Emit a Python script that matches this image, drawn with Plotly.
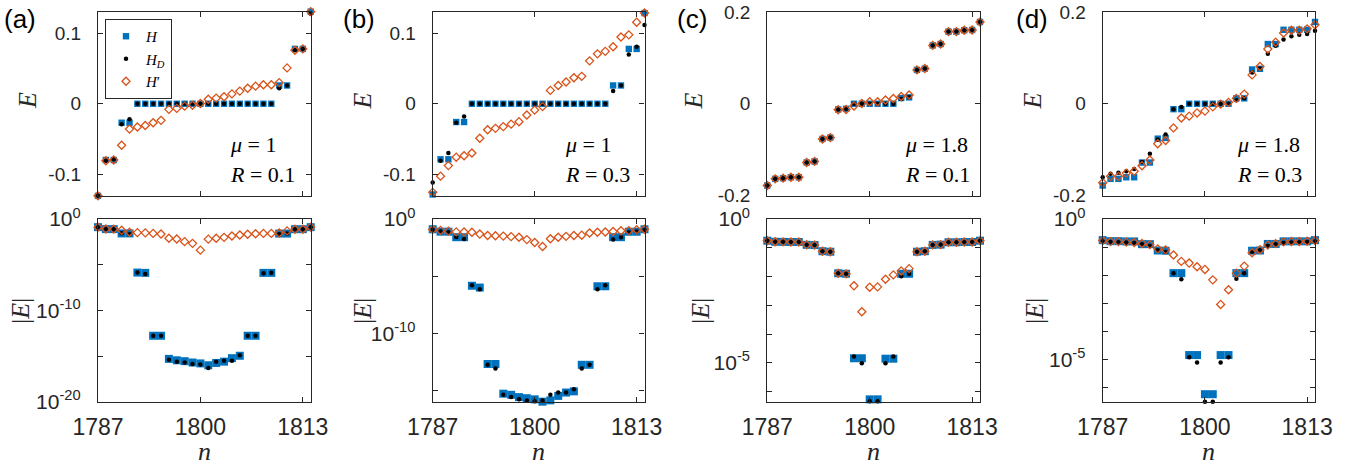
import plotly.graph_objects as go

# ---------------- data ----------------
n = list(range(1787, 1815))

# panel (a)  mu=1, R=0.1
E_H_a = [-0.131, -0.080, -0.080, -0.027, -0.027,
         0.0, 0.0, 0.0, 0.0, 0.0, 0.0, 0.0, 0.0, 0.0, 0.0, 0.0, 0.0, 0.0, 0.0, 0.0, 0.0, 0.0, 0.0,
         0.026, 0.026, 0.078, 0.078, 0.131]
E_HD_a = [-0.131, -0.081, -0.079, -0.029, -0.022,
          0.0, 0.0, 0.0, 0.0, 0.0, 0.0, 0.0, 0.0, 0.0, 0.0, 0.0, 0.0, 0.0, 0.0, 0.0, 0.0, 0.0, 0.0,
          0.022, 0.026, 0.076, 0.078, 0.128]
E_HP_a = [-0.131, -0.081, -0.080, -0.059, -0.036, -0.033, -0.031, -0.027, -0.0236, -0.008,
          -0.0066, -0.0034, -0.0022, 0.0004, 0.0064, 0.008, 0.010, 0.014, 0.018, 0.022,
          0.025, 0.027, 0.027, 0.030, 0.051, 0.076, 0.078, 0.131]
A_H_a = [0.131, 0.080, 0.080, 0.027, 0.027, 1.4e-6, 1.3e-6, 1.7e-13, 1.7e-13, 5e-16,
         3.5e-16, 2.8e-16, 2e-16, 1.6e-16, 1e-16, 1.8e-16, 2.5e-16, 6e-16, 1.1e-15, 1.7e-13,
         1.7e-13, 1.3e-6, 1.3e-6, 0.026, 0.026, 0.078, 0.078, 0.131]
A_HD_a = [0.131, 0.081, 0.079, 0.029, 0.022, 1.4e-6, 1.0e-6, 1.7e-13, 1.7e-13, 4e-16,
          2.5e-16, 2e-16, 1.4e-16, 1.25e-16, 5e-17, 2.5e-16, 3.2e-16, 3.2e-16, 1.25e-15, 1.7e-13,
          1.7e-13, 1.2e-6, 1.3e-6, 0.0217, 0.026, 0.076, 0.078, 0.128]
A_HP_a = [0.131, 0.081, 0.080, 0.059, 0.036, 0.033, 0.031, 0.027, 0.0236, 0.008,
          0.0066, 0.0034, 0.0022, 0.0004, 0.0064, 0.008, 0.010, 0.014, 0.018, 0.022,
          0.025, 0.027, 0.027, 0.030, 0.051, 0.076, 0.078, 0.131]

# panel (b)  mu=1, R=0.3
E_H_b = [-0.129, -0.079, -0.079, -0.026, -0.026,
         0.0, 0.0, 0.0, 0.0, 0.0, 0.0, 0.0, 0.0, 0.0, 0.0, 0.0, 0.0, 0.0, 0.0, 0.0, 0.0, 0.0, 0.0,
         0.026, 0.026, 0.078, 0.078, 0.129]
E_HD_b = [-0.112, -0.081, -0.070, -0.027, -0.018,
          0.0, 0.0, 0.0, 0.0, 0.0, 0.0, 0.0, 0.0, 0.0, 0.0, 0.0, 0.0, 0.0, 0.0, 0.0, 0.0, 0.0, 0.0,
          0.018, 0.026, 0.070, 0.081, 0.112]
E_HP_b = [-0.126, -0.103, -0.088, -0.076, -0.074, -0.070, -0.049, -0.037, -0.035, -0.0325,
          -0.029, -0.0255, -0.016, -0.009, -0.004, 0.019, 0.026, 0.031, 0.037, 0.039,
          0.061, 0.071, 0.0745, 0.081, 0.095, 0.098, 0.116, 0.129]
A_H_b = [0.129, 0.079, 0.079, 0.026, 0.026, 1.45e-6, 1.0e-6, 2e-13, 2e-13, 5e-16,
         4e-16, 2.5e-16, 2e-16, 1.6e-16, 1e-16, 1.3e-16, 3.2e-16, 6.3e-16, 8e-16, 1.7e-13,
         1.7e-13, 1.3e-6, 1.3e-6, 0.026, 0.026, 0.078, 0.078, 0.129]
A_HD_b = [0.112, 0.081, 0.070, 0.027, 0.018, 1.6e-6, 7e-7, 1.7e-13, 8e-14, 4e-16,
          2.5e-16, 1.6e-16, 1.25e-16, 1.1e-16, 1.25e-16, 4e-16, 6.3e-16, 6.3e-16, 1.25e-15, 8e-14,
          1.7e-13, 7e-7, 1.6e-6, 0.016, 0.026, 0.070, 0.081, 0.112]
A_HP_b = [0.126, 0.103, 0.088, 0.076, 0.074, 0.070, 0.049, 0.037, 0.035, 0.0325,
          0.029, 0.0255, 0.016, 0.009, 0.004, 0.019, 0.026, 0.031, 0.037, 0.039,
          0.061, 0.071, 0.0745, 0.081, 0.095, 0.098, 0.116, 0.129]

# panel (c)  mu=1.8, R=0.1
E_H_c = [-0.178, -0.1635, -0.162, -0.160, -0.160, -0.128, -0.1255, -0.0766, -0.0737, -0.0124,
         -0.011, 0.0, 0.0, 0.0, 0.0, 0.0, 0.0, 0.0124, 0.0139, 0.0737,
         0.0766, 0.127, 0.130, 0.157, 0.157, 0.160, 0.1606, 0.178]
E_HD_c = [-0.178, -0.1635, -0.162, -0.160, -0.160, -0.128, -0.1255, -0.0766, -0.0737, -0.0124,
          -0.011, 0.0, 0.0, 0.0, 0.0, 0.0, 0.0, 0.0103, 0.0139, 0.0737,
          0.0766, 0.127, 0.130, 0.157, 0.157, 0.160, 0.1606, 0.178]
E_HP_c = [-0.178, -0.1635, -0.162, -0.160, -0.160, -0.128, -0.1255, -0.0766, -0.0737, -0.0131,
          -0.0125, -0.0048, 0.0006, 0.0043, 0.0044, 0.0081, 0.0115, 0.0158, 0.019, 0.0737,
          0.0766, 0.127, 0.130, 0.157, 0.157, 0.160, 0.1606, 0.178]
A_H_c = [0.178, 0.1635, 0.162, 0.160, 0.160, 0.128, 0.1255, 0.0766, 0.0737, 0.0131,
         0.0126, 1.45e-5, 1.45e-5, 5.4e-7, 5.4e-7, 1.4e-5, 1.4e-5, 0.0126, 0.0126, 0.0737,
         0.0766, 0.127, 0.130, 0.157, 0.157, 0.160, 0.1606, 0.178]
A_HD_c = [0.178, 0.1635, 0.162, 0.160, 0.160, 0.128, 0.1255, 0.0766, 0.0737, 0.0131,
          0.0126, 1.66e-5, 9.8e-6, 4.6e-7, 4.6e-7, 9.8e-6, 1.66e-5, 0.0103, 0.0126, 0.0737,
          0.0766, 0.127, 0.130, 0.157, 0.157, 0.160, 0.1606, 0.178]
A_HP_c = [0.178, 0.1635, 0.162, 0.160, 0.160, 0.128, 0.1255, 0.0766, 0.0737, 0.0131,
          0.0125, 0.0048, 0.0006, 0.0043, 0.0044, 0.0081, 0.0115, 0.0158, 0.019, 0.0737,
          0.0766, 0.127, 0.130, 0.157, 0.157, 0.160, 0.1606, 0.178]

# panel (d)  mu=1.8, R=0.3
E_H_d = [-0.178, -0.1635, -0.1635, -0.160, -0.160, -0.128, -0.128, -0.076, -0.0745, -0.0118,
         -0.0118, 0.0, 0.0, 0.0, 0.0, 0.0, 0.0, 0.0118, 0.0118, 0.0745,
         0.076, 0.130, 0.130, 0.161, 0.161, 0.161, 0.161, 0.178]
E_HD_d = [-0.160, -0.1526, -0.150, -0.147, -0.142, -0.127, -0.109, -0.078, -0.067, -0.0118,
          -0.0072, 0.0, 0.0, 0.0, 0.0, 0.0, 0.0, 0.0075, 0.0118, 0.068,
          0.077, 0.109, 0.126, 0.140, 0.147, 0.150, 0.152, 0.159]
E_HP_d = [-0.172, -0.158, -0.158, -0.151, -0.147, -0.135, -0.1226, -0.087, -0.080, -0.0526,
          -0.031, -0.027, -0.020, -0.016, -0.0068, -0.0009, 0.003, 0.0118, 0.021, 0.0628,
          0.081, 0.119, 0.134, 0.154, 0.160, 0.160, 0.163, 0.172]
A_H_d = [0.178, 0.1635, 0.1635, 0.160, 0.160, 0.128, 0.128, 0.076, 0.0745, 0.0118,
         0.0118, 1.4e-5, 1.4e-5, 5.6e-7, 5.6e-7, 1.4e-5, 1.4e-5, 0.0118, 0.0118, 0.0745,
         0.076, 0.130, 0.130, 0.161, 0.161, 0.161, 0.161, 0.178]
A_HD_d = [0.160, 0.1526, 0.150, 0.147, 0.142, 0.127, 0.109, 0.078, 0.067, 0.0118,
          0.0072, 1.17e-5, 7.6e-6, 3e-7, 3e-7, 7.6e-6, 1.17e-5, 0.0075, 0.0118, 0.068,
          0.077, 0.109, 0.126, 0.140, 0.147, 0.150, 0.152, 0.159]
A_HP_d = [0.172, 0.158, 0.158, 0.151, 0.147, 0.135, 0.1226, 0.087, 0.080, 0.0526,
          0.031, 0.027, 0.020, 0.016, 0.0068, 0.0009, 0.003, 0.0118, 0.021, 0.0628,
          0.081, 0.119, 0.134, 0.154, 0.160, 0.160, 0.163, 0.172]

panel_labels = ["(a)", "(b)", "(c)", "(d)"]
mu_values = ["1", "1", "1.8", "1.8"]
R_values = ["0.1", "0.3", "0.1", "0.3"]
x_ticks = [1787, 1800, 1813]
top_tickvals = [[-0.1, 0, 0.1], [-0.1, 0, 0.1], [-0.2, 0, 0.2], [-0.2, 0, 0.2]]
top_ticktext = [["-0.1", "0", "0.1"], ["-0.1", "0", "0.1"], ["-0.2", "0", "0.2"], ["-0.2", "0", "0.2"]]
bot_tickvals = [[1e0, 1e-10, 1e-20], [1e0, 1e-10], [1e0, 1e-5], [1e0, 1e-5]]
bot_ticktext = [["10<sup>0</sup>", "10<sup>-10</sup>", "10<sup>-20</sup>"],
                ["10<sup>0</sup>", "10<sup>-10</sup>"],
                ["10<sup>0</sup>", "10<sup>-5</sup>"],
                ["10<sup>0</sup>", "10<sup>-5</sup>"]]
bot_minorvals = [[1e-5, 1e-15],
                 [1e-5, 1e-15],
                 [1e-1, 1e-2, 1e-3, 1e-4, 1e-6],
                 [1e-1, 1e-2, 1e-3, 1e-4, 1e-6]]

top_series = [(E_H_a, E_HD_a, E_HP_a), (E_H_b, E_HD_b, E_HP_b),
              (E_H_c, E_HD_c, E_HP_c), (E_H_d, E_HD_d, E_HP_d)]
bot_series = [(A_H_a, A_HD_a, A_HP_a), (A_H_b, A_HD_b, A_HP_b),
              (A_H_c, A_HD_c, A_HP_c), (A_H_d, A_HD_d, A_HP_d)]

# ---------------- layout / styles ----------------
W, Hh = 1367, 471
BLUE, ORANGE, AX = "#0072BD", "#D95319", "#262626"
SANS = "Liberation Sans, Arial, sans-serif"
SERIF = "Liberation Serif, Times New Roman, serif"

col_px = [(98, 310.7), (432.7, 644.5), (767.3, 980.0), (1102.7, 1315.0)]
top_px = (11.5, 196)
bot_px = (219, 402)
top_ranges = [[-0.1312, 0.1312], [-0.1312, 0.1312], [-0.2008, 0.2008], [-0.2008, 0.2008]]
bot_ranges = [[-20.02, 0.01], [-16.03, 0.01], [-6.36, 0.005], [-6.53, 0.005]]
ylab_top_x = [28, 362.5, 693.5, 1032.5]
ylab_bot_x = [20, 362, 700, 1034]
mu_x = [228, 563, 903, 1235]
panel_lab_x = [20, 359, 692, 1032]


def fx(p):
    return p / W


def fy(p):
    return 1 - p / Hh


fig = go.Figure()

names = ["<i>H</i>", "<i>H</i><sub><i>D</i></sub>", "<i>H</i>′"]

for i in range(4):
    for row, series in ((0, top_series[i]), (1, bot_series[i])):
        ax = i + 1 + 4 * row
        big = row == 1
        sH, sHD, sHP = series
        fig.add_trace(go.Scatter(
            x=n, y=sH, mode="markers", name=names[0], legendgroup="H",
            showlegend=(ax == 1), cliponaxis=False,
            marker=dict(symbol="square", size=8 if big else 6.4, color=BLUE, line=dict(width=0)),
            xaxis=f"x{ax}", yaxis=f"y{ax}"))
        fig.add_trace(go.Scatter(
            x=n, y=sHD, mode="markers", name=names[1], legendgroup="HD",
            showlegend=(ax == 1), cliponaxis=False,
            marker=dict(symbol="circle", size=4.5, color="black", line=dict(width=0)),
            xaxis=f"x{ax}", yaxis=f"y{ax}"))
        fig.add_trace(go.Scatter(
            x=n, y=sHP, mode="markers", name=names[2], legendgroup="HP",
            showlegend=(ax == 1), cliponaxis=False,
            marker=dict(symbol="diamond-open", size=6.2, color=ORANGE, line=dict(width=1.3, color=ORANGE)),
            xaxis=f"x{ax}", yaxis=f"y{ax}"))

common = dict(showline=True, mirror="ticks", linecolor=AX, linewidth=1.2,
              ticks="inside", ticklen=5, tickcolor=AX, tickwidth=1,
              showgrid=False, zeroline=False, automargin=False, ticklabeloverflow="allow")

layout = dict(width=W, height=Hh, margin=dict(l=0, r=0, t=0, b=0, autoexpand=False),
              plot_bgcolor="white", paper_bgcolor="white", showlegend=True)

for i in range(4):
    x0, x1 = col_px[i]
    for row in (0, 1):
        ax = i + 1 + 4 * row
        xk = "xaxis" if ax == 1 else f"xaxis{ax}"
        yk = "yaxis" if ax == 1 else f"yaxis{ax}"
        ypx = top_px if row == 0 else bot_px
        layout[xk] = dict(common, domain=[fx(x0), fx(x1)], anchor=f"y{ax}",
                          range=[1787, 1814], tickvals=x_ticks,
                          ticktext=[str(v) for v in x_ticks],
                          showticklabels=(row == 1),
                          tickfont=dict(family=SANS, size=23, color=AX),
                          ticklabelstandoff=4)
        if row == 0:
            layout[yk] = dict(common, domain=[fy(ypx[1]), fy(ypx[0])], anchor=f"x{ax}",
                              range=top_ranges[i], tickvals=top_tickvals[i],
                              ticktext=top_ticktext[i],
                              tickfont=dict(family=SANS, size=19, color=AX),
                              ticklabelstandoff=12)
        else:
            layout[yk] = dict(common, domain=[fy(ypx[1]), fy(ypx[0])], anchor=f"x{ax}",
                              type="log", range=bot_ranges[i], tickvals=bot_tickvals[i],
                              ticktext=bot_ticktext[i],
                              minor=dict(tickvals=bot_minorvals[i], ticks="inside", ticklen=5,
                                         tickcolor=AX, tickwidth=1, showgrid=False),
                              tickfont=dict(family=SANS, size=21, color=AX),
                              ticklabelstandoff=12)

layout["legend"] = dict(x=fx(105), y=fy(19), xanchor="left", yanchor="top",
                        bgcolor="white", bordercolor=AX, borderwidth=1,
                        font=dict(family=SERIF, size=15, color="black"),
                        tracegroupgap=0, itemwidth=30, itemsizing="trace")

ann = []
for i in range(4):
    x0, x1 = col_px[i]
    ann.append(dict(text=panel_labels[i], x=fx(panel_lab_x[i]), y=fy(19), xref="paper", yref="paper",
                    showarrow=False, xanchor="center", yanchor="middle",
                    font=dict(family=SANS, size=26, color="black")))
    ann.append(dict(text="<i>E</i>", x=fx(ylab_top_x[i]), y=fy(101), xref="paper", yref="paper",
                    showarrow=False, textangle=-90, xanchor="center", yanchor="middle",
                    font=dict(family=SERIF, size=26, color=AX)))
    ann.append(dict(text="|<i>E</i>|", x=fx(ylab_bot_x[i]), y=fy(311), xref="paper", yref="paper",
                    showarrow=False, textangle=-90, xanchor="center", yanchor="middle",
                    font=dict(family=SERIF, size=26, color=AX)))
    ann.append(dict(text="<i>n</i>", x=fx((x0 + x1) / 2), y=fy(451), xref="paper", yref="paper",
                    showarrow=False, xanchor="center", yanchor="middle",
                    font=dict(family=SERIF, size=26, color=AX)))
    ann.append(dict(text="<i>μ</i> = " + mu_values[i], x=fx(mu_x[i]), y=fy(145), xref="paper", yref="paper",
                    showarrow=False, xanchor="left", yanchor="middle",
                    font=dict(family=SERIF, size=22, color="black")))
    ann.append(dict(text="<i>R</i> = " + R_values[i], x=fx(mu_x[i]), y=fy(175), xref="paper", yref="paper",
                    showarrow=False, xanchor="left", yanchor="middle",
                    font=dict(family=SERIF, size=22, color="black")))
layout["annotations"] = ann

fig.update_layout(**layout)
fig.write_html("out.html", config={"displayModeBar": False},
               post_script="document.body.style.margin='0px';")
